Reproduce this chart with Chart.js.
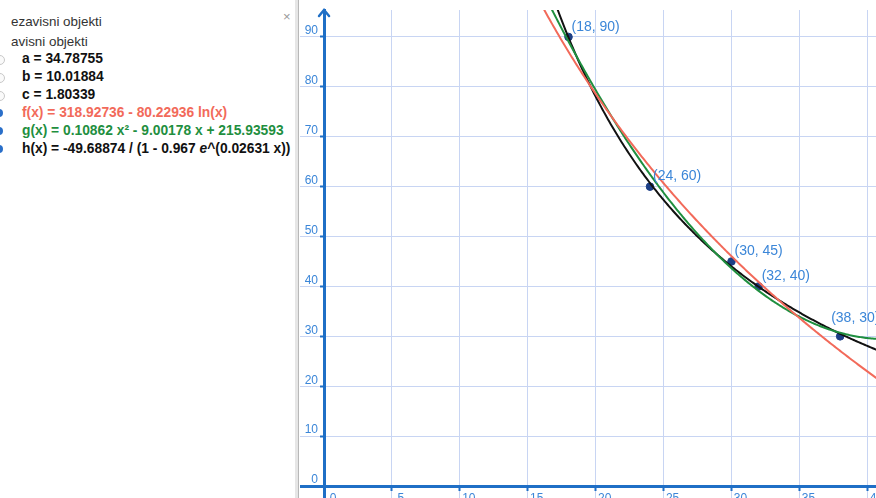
<!DOCTYPE html>
<html>
<head>
<meta charset="utf-8">
<script src="https://cdn.jsdelivr.net/npm/chart.js@4.4.1/dist/chart.umd.min.js"></script>
<style>
  html, body { margin: 0; padding: 0; background: #fff; }
  body { width: 876px; height: 498px; position: relative; overflow: hidden; font-family: "Liberation Sans", Arial, sans-serif; }
  #algebra { position: absolute; left: 0; top: 0; width: 295px; height: 498px; overflow: hidden; }
  .row { position: absolute; white-space: nowrap; line-height: 16px; }
  .hdr { color: #333; left: 11px; width: 270px; overflow: hidden; font-size: 13.4px; }
  .hdr span { position: relative; }
  .obj { left: 22px; font-weight: bold; font-size: 13.8px; }
  .dot { position: absolute; left: -5px; width: 8px; height: 8px; border-radius: 50%; }
  .dot.off { border: 1px solid #c8c8c8; background: #fafafa; }
  .dot.on { background: #2a6fc9; }
  #close { position: absolute; left: 283px; top: 9px; color: #999; font-size: 13px; }
  #divider { position: absolute; left: 295px; top: 0; width: 3px; height: 498px; background: #e6e6e6; border-right: 1px solid #b8b8b8; }
  #graph { position: absolute; left: 300px; top: 0; width: 576px; height: 498px; }
</style>
</head>
<body>
<div id="algebra"></div>
<div id="close">×</div>
<div id="divider"></div>
<div id="graph"><canvas id="c" width="576" height="498"></canvas></div>
<script>
// Measured points
const pointX = [18, 24, 30, 32, 38];
const pointY = [90, 60, 45, 40, 30];

// Fitted curves: f(x) = f0 + f1 ln(x), g(x) = g0 x² + g1 x + g2, h(x) = h0 / (1 - h1 e^(h2 x))
const fCoef = [318.92736, -80.22936];
const gCoef = [0.10862, -9.00178, 215.93593];
const hCoef = [-49.68874, 0.967, 0.02631];
const params = [['a', '34.78755'], ['b', '10.01884'], ['c', '1.80339']];

// Axis ticks
const xTicks = [0, 5, 10, 15, 20, 25, 30, 35, 40];
const yTicks = [0, 10, 20, 30, 40, 50, 60, 70, 80, 90];

const RED = '#f26a5a', GREEN = '#1f8f3f', BLACK = '#111111', AXIS = '#1f6fc6', LABEL = '#3b86d8', GRID = '#c8d5f3';

// Algebra view
const alg = document.getElementById('algebra');
const measure = document.createElement('canvas').getContext('2d');
function addHeader(top, text) {
  // the tree view is scrolled so the first letter sits under the left edge
  measure.font = '13.4px "Liberation Sans", Arial, sans-serif';
  const w = measure.measureText(text[0]).width;
  const d = document.createElement('div');
  d.className = 'row hdr';
  d.style.top = top + 'px';
  const s = document.createElement('span');
  s.style.left = (-w) + 'px';
  s.textContent = text;
  d.appendChild(s);
  alg.appendChild(d);
}
function addRow(top, html, color, dot) {
  const d = document.createElement('div');
  d.className = 'row obj';
  d.style.top = top + 'px';
  d.style.color = color;
  d.innerHTML = html;
  alg.appendChild(d);
  const b = document.createElement('div');
  b.className = 'dot ' + dot;
  b.style.top = (top + 4) + 'px';
  alg.appendChild(b);
}
addHeader(14, 'Nezavisni objekti');
addHeader(34, 'Zavisni objekti');
params.forEach((p, i) => addRow(51 + 18 * i, p[0] + ' = ' + p[1], '#111', 'off'));
addRow(105, 'f(x) = ' + fCoef[0].toFixed(5) + ' - ' + Math.abs(fCoef[1]).toFixed(5) + ' ln(x)', RED, 'on');
addRow(123, 'g(x) = ' + gCoef[0].toFixed(5) + ' x² - ' + Math.abs(gCoef[1]).toFixed(5) + ' x + ' + gCoef[2].toFixed(5), GREEN, 'on');
addRow(141, 'h(x) = ' + hCoef[0].toFixed(5) + ' / (1 - ' + hCoef[1] + ' <i>e</i>^(' + hCoef[2] + ' x))', '#111', 'on');

// Sample the three curves across the visible x range
const xs = [];
for (let x = 12; x <= 41; x += 0.1) xs.push(+x.toFixed(2));
const fData = xs.map(x => ({ x, y: fCoef[0] + fCoef[1] * Math.log(x) }));
const gData = xs.map(x => ({ x, y: gCoef[0] * x * x + gCoef[1] * x + gCoef[2] }));
const hData = xs.map(x => ({ x, y: hCoef[0] / (1 - hCoef[1] * Math.exp(hCoef[2] * x)) }));
const ptData = pointX.map((x, i) => ({ x, y: pointY[i] }));

const curve = (data, color) => ({ data, showLine: true, borderColor: color, borderWidth: 2, pointRadius: 0, tension: 0, fill: false });

const arrowAndLabels = {
  id: 'arrowAndLabels',
  afterDatasetsDraw(chart) {
    const { ctx, scales: { x, y }, chartArea } = chart;
    // y-axis arrow head
    const ax = x.getPixelForValue(0);
    ctx.save();
    ctx.strokeStyle = AXIS;
    ctx.lineWidth = 2.5;
    ctx.lineCap = 'round';
    ctx.beginPath();
    ctx.moveTo(ax - 5, chartArea.top + 6);
    ctx.lineTo(ax, chartArea.top);
    ctx.lineTo(ax + 5, chartArea.top + 6);
    ctx.stroke();
    // point captions: above-right, or above-left when they would run off the right edge
    ctx.fillStyle = LABEL;
    ctx.font = '14px "Liberation Sans", Arial, sans-serif';
    ctx.textBaseline = 'middle';
    ctx.textAlign = 'left';
    pointX.forEach((px, i) => {
      const text = '(' + px + ', ' + pointY[i] + ')';
      const w = ctx.measureText(text).width;
      let tx = x.getPixelForValue(px) + 3;
      let ty = y.getPixelForValue(pointY[i]) - 10;
      if (tx + w > chartArea.right) { tx = x.getPixelForValue(px) - 9; ty -= 8; }
      ctx.fillText(text, tx, ty);
    });
    ctx.restore();
  }
};

const zeroPad = s => { s.paddingTop = 0; s.paddingBottom = 0; s.paddingLeft = 0; s.paddingRight = 0; };
const tickFont = { size: 12, family: '"Liberation Sans", Arial, sans-serif' };

new Chart(document.getElementById('c'), {
  type: 'scatter',
  data: {
    datasets: [
      curve(fData, RED),
      curve(gData, GREEN),
      curve(hData, BLACK),
      { data: ptData, pointRadius: 3.8, pointBackgroundColor: '#1c3f86', pointBorderColor: '#1c3f86', pointBorderWidth: 1, showLine: false }
    ]
  },
  options: {
    responsive: false,
    animation: false,
    layout: { autoPadding: false, padding: { top: 10, left: 0, right: 0, bottom: 0 } },
    plugins: { legend: { display: false }, tooltip: { enabled: false } },
    scales: {
      x: {
        type: 'linear',
        position: { y: 0 },
        min: -1.77, max: 40.64,
        afterBuildTicks: s => { s.ticks = xTicks.map(v => ({ value: v })); },
        afterFit: zeroPad,
        grid: { color: GRID, lineWidth: 1, tickLength: 3, tickColor: AXIS, tickWidth: 2 },
        border: { display: true, color: AXIS, width: 3 },
        ticks: { color: LABEL, padding: 2, labelOffset: 9, maxRotation: 0, autoSkip: false, font: tickFont }
      },
      y: {
        type: 'linear',
        position: { x: 0 },
        min: -2.4, max: 95.4,
        afterBuildTicks: s => { s.ticks = yTicks.map(v => ({ value: v })); },
        afterFit: zeroPad,
        grid: { color: GRID, lineWidth: 1, tickLength: 3, tickColor: AXIS, tickWidth: 2 },
        border: { display: true, color: AXIS, width: 3 },
        // labels sit right-aligned on the axis line; an en space keeps them clear of it
        ticks: { color: LABEL, labelOffset: -6, autoSkip: false, font: tickFont, callback: v => v + '\u2002' }
      }
    }
  },
  plugins: [arrowAndLabels]
});
</script>
</body>
</html>
